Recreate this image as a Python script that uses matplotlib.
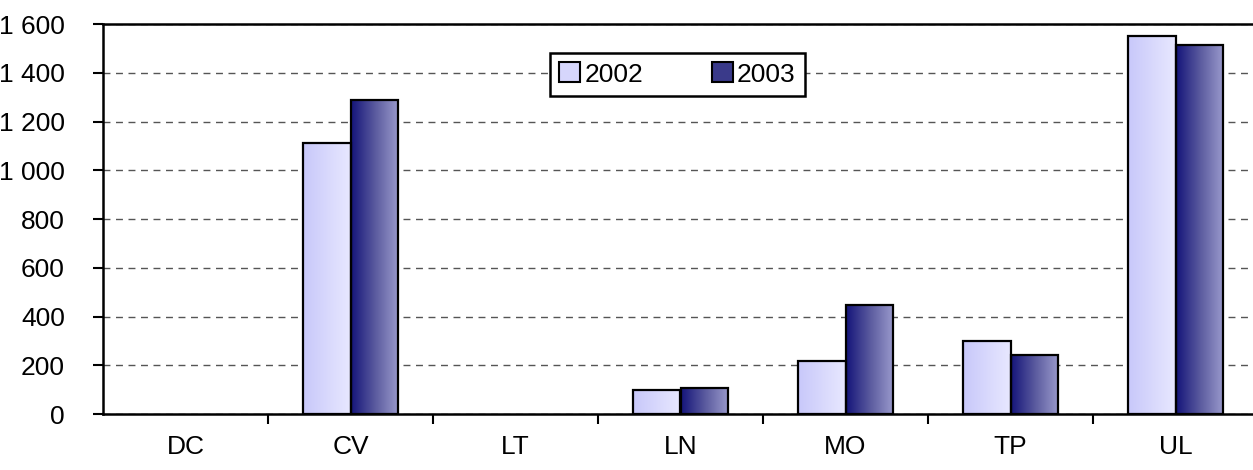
import numpy as np
import matplotlib
matplotlib.use("Agg")
import matplotlib.pyplot as plt
from matplotlib.colors import LinearSegmentedColormap
from matplotlib.ticker import FuncFormatter, FixedLocator
from matplotlib.patches import Patch

plt.rcParams['font.family'] = ['Liberation Sans Narrow', 'Liberation Sans', 'DejaVu Sans']

# data
categories = ['DC', 'CV', 'LT', 'LN', 'MO', 'TP', 'UL']
years = ['2002', '2003']
v2002 = [0, 1112, 0, 98, 217, 300, 1551]
v2003 = [0, 1290, 0, 107, 447, 242, 1514]

cmap02 = LinearSegmentedColormap.from_list('c02', ['#c8c8fa', '#e8e8ff'])
cmap03 = LinearSegmentedColormap.from_list('c03', ['#15157a', '#5a5a9e', '#9a9acc'])

fig = plt.figure(figsize=(12.53, 4.70), dpi=100)
ax = fig.add_axes([103 / 1253, 1 - 414 / 470, 1155 / 1253, 390 / 470])

x = np.arange(len(categories))
w = 0.285
grad = np.linspace(0, 1, 64).reshape(1, -1)

bars02 = ax.bar(x - w / 2, v2002, w, facecolor='none', edgecolor='black', linewidth=1.6, zorder=4)
bars03 = ax.bar(x + w / 2, v2003, w, facecolor='none', edgecolor='black', linewidth=1.6, zorder=4)

# gradient fill inside each bar, empty bars not drawn
for bars, cm in [(bars02, cmap02), (bars03, cmap03)]:
    for b in bars:
        if b.get_height() <= 0:
            b.set_linewidth(0)
            continue
        x0 = b.get_x()
        ax.imshow(grad, cmap=cm, aspect='auto', interpolation='bilinear',
                  extent=[x0, x0 + b.get_width(), 0, b.get_height()], zorder=3)

ax.set_xlim(-0.5, len(categories) - 0.5)
ax.set_ylim(0, 1600)

ax.yaxis.set_major_locator(FixedLocator(np.arange(0, 1601, 200)))
ax.yaxis.set_major_formatter(FuncFormatter(lambda v, p: f'{int(v):,}'.replace(',', ' ')))
ax.grid(axis='y', linestyle=(0, (5, 4)), color='#555555', linewidth=1.0, zorder=1)

# x ticks at category boundaries, labels centred
ax.set_xticks(np.arange(0.5, len(categories) - 0.5, 1))
ax.set_xticklabels([])
ax.set_xticks(x, minor=True)
ax.set_xticklabels(categories, minor=True)
ax.tick_params(axis='x', which='minor', length=0, pad=15, labelsize=19)
ax.tick_params(axis='x', which='major', direction='out', length=7, width=1.5)
ax.tick_params(axis='y', direction='out', length=7.5, width=1.5, labelsize=19, pad=20)

for s in ['left', 'bottom', 'top']:
    ax.spines[s].set_linewidth(1.8)
    ax.spines[s].set_color('black')
ax.spines['right'].set_visible(False)

handles = [Patch(facecolor='#d6d6fc', edgecolor='black', linewidth=1.5),
           Patch(facecolor='#3a3a8a', edgecolor='black', linewidth=1.5)]
leg = ax.legend(handles, years, loc='upper left', bbox_to_anchor=((550 - 103) / 1155, (414 - 53) / 390),
                ncol=2, fontsize=19, frameon=True, fancybox=False, framealpha=1,
                handlelength=0.8, handleheight=0.8,
                handletextpad=0.15, columnspacing=2.6, borderpad=0.35, borderaxespad=0)
leg.get_frame().set_edgecolor('black')
leg.get_frame().set_linewidth(1.8)
leg.set_zorder(6)

fig.savefig('out.png', dpi=100)
